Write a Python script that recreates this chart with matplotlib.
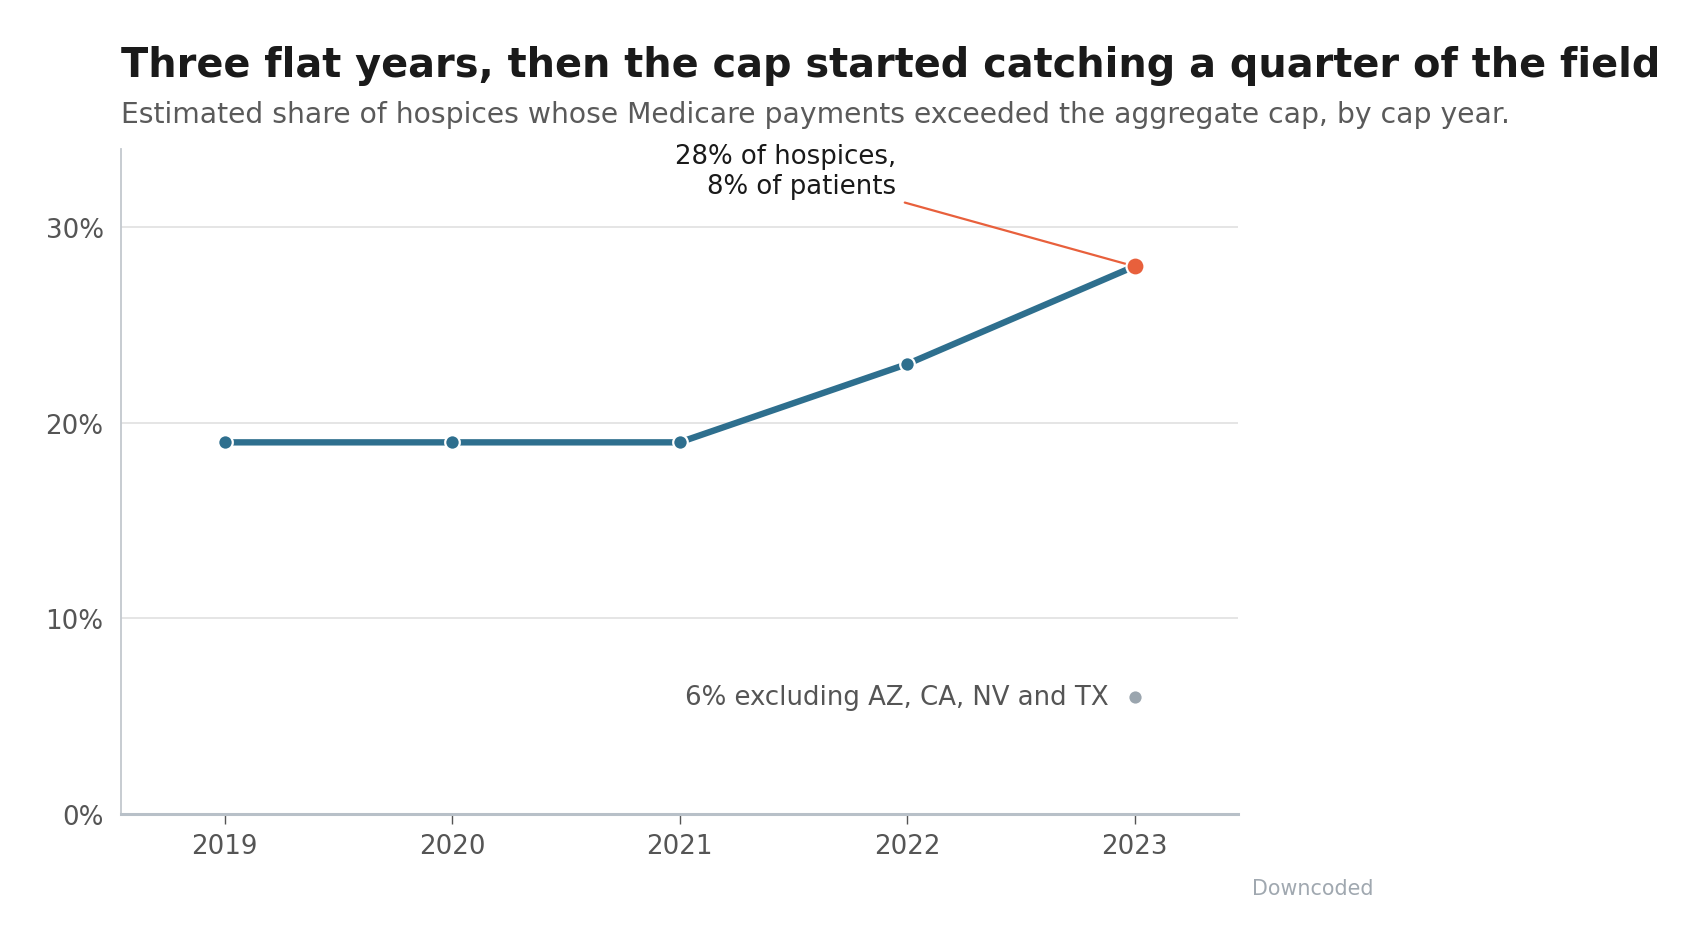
import matplotlib
matplotlib.use("Agg")
import matplotlib.pyplot as plt
from matplotlib.ticker import FuncFormatter

plt.rcParams["font.family"] = ["DejaVu Sans"]

# data
years = [2019, 2020, 2021, 2022, 2023]
share_over_cap = [19, 19, 19, 23, 28]
excl_year = 2023
excl_share = 6
yticks = [0, 10, 20, 30]

blue = "#2e6f8e"
orange = "#e8603c"
grey_dot = "#9aa5ae"

fig = plt.figure(figsize=(17.07, 9.45), dpi=100, facecolor="white")
ax = fig.add_axes([0.0709, 0.1376, 0.6544, 0.7037])

ax.plot(years, share_over_cap, color=blue, lw=4.6, solid_capstyle="round", zorder=3)
ax.plot(years[:-1], share_over_cap[:-1], "o", color=blue, ms=10.5,
        mec="white", mew=1.6, zorder=4)
ax.plot(years[-1:], share_over_cap[-1:], "o", color=orange, ms=13,
        mec="white", mew=1.6, zorder=5)
ax.plot([excl_year], [excl_share], "o", color=grey_dot, ms=10, mec="white",
        mew=1.2, zorder=4)

ax.text(excl_year - 0.114, excl_share, "6% excluding AZ, CA, NV and TX",
        ha="right", va="center", fontsize=18.7, color="#555555")

ax.annotate("", xy=(years[-1], share_over_cap[-1]), xytext=(2021.99, 31.26),
            arrowprops=dict(arrowstyle="-", color=orange, lw=1.6,
                            shrinkA=0, shrinkB=6))
ax.text(2021.95, 31.45, "28% of hospices,\n8% of patients", ha="right",
        va="bottom", fontsize=18.7, color="#1a1a1a")

ax.set_xlim(2018.545, 2023.455)
ax.set_ylim(0, 34)
ax.set_xticks(years)
ax.set_yticks(yticks)
ax.yaxis.set_major_formatter(FuncFormatter(lambda v, p: f"{v:.0f}%"))
ax.grid(axis="y", color="#e3e3e3", lw=1.3)
ax.set_axisbelow(True)

for s in ["top", "right"]:
    ax.spines[s].set_visible(False)
ax.spines["left"].set_color("#c3c8ce")
ax.spines["left"].set_linewidth(1.3)
ax.spines["bottom"].set_color("#b8c0c8")
ax.spines["bottom"].set_linewidth(2.2)

ax.tick_params(axis="x", length=7, width=1, color="#555555", pad=7,
               labelsize=18.8, labelcolor="#555555")
ax.tick_params(axis="y", length=0, pad=12.5, labelsize=18.8, labelcolor="#555555")

fig.text(0.0709, 0.9185,
         "Three flat years, then the cap started catching a quarter of the field",
         fontsize=28.7, fontweight="bold", color="#1a1a1a", ha="left", va="baseline")
fig.text(0.0709, 0.8698,
         "Estimated share of hospices whose Medicare payments exceeded the aggregate cap, by cap year.",
         fontsize=20.35, color="#5a5a5a", ha="left", va="baseline")
fig.text(0.7335, 0.059, "Downcoded", fontsize=14.9, color="#a0a8b0",
         ha="left", va="center")

fig.savefig("out.png", dpi=100, facecolor="white")
